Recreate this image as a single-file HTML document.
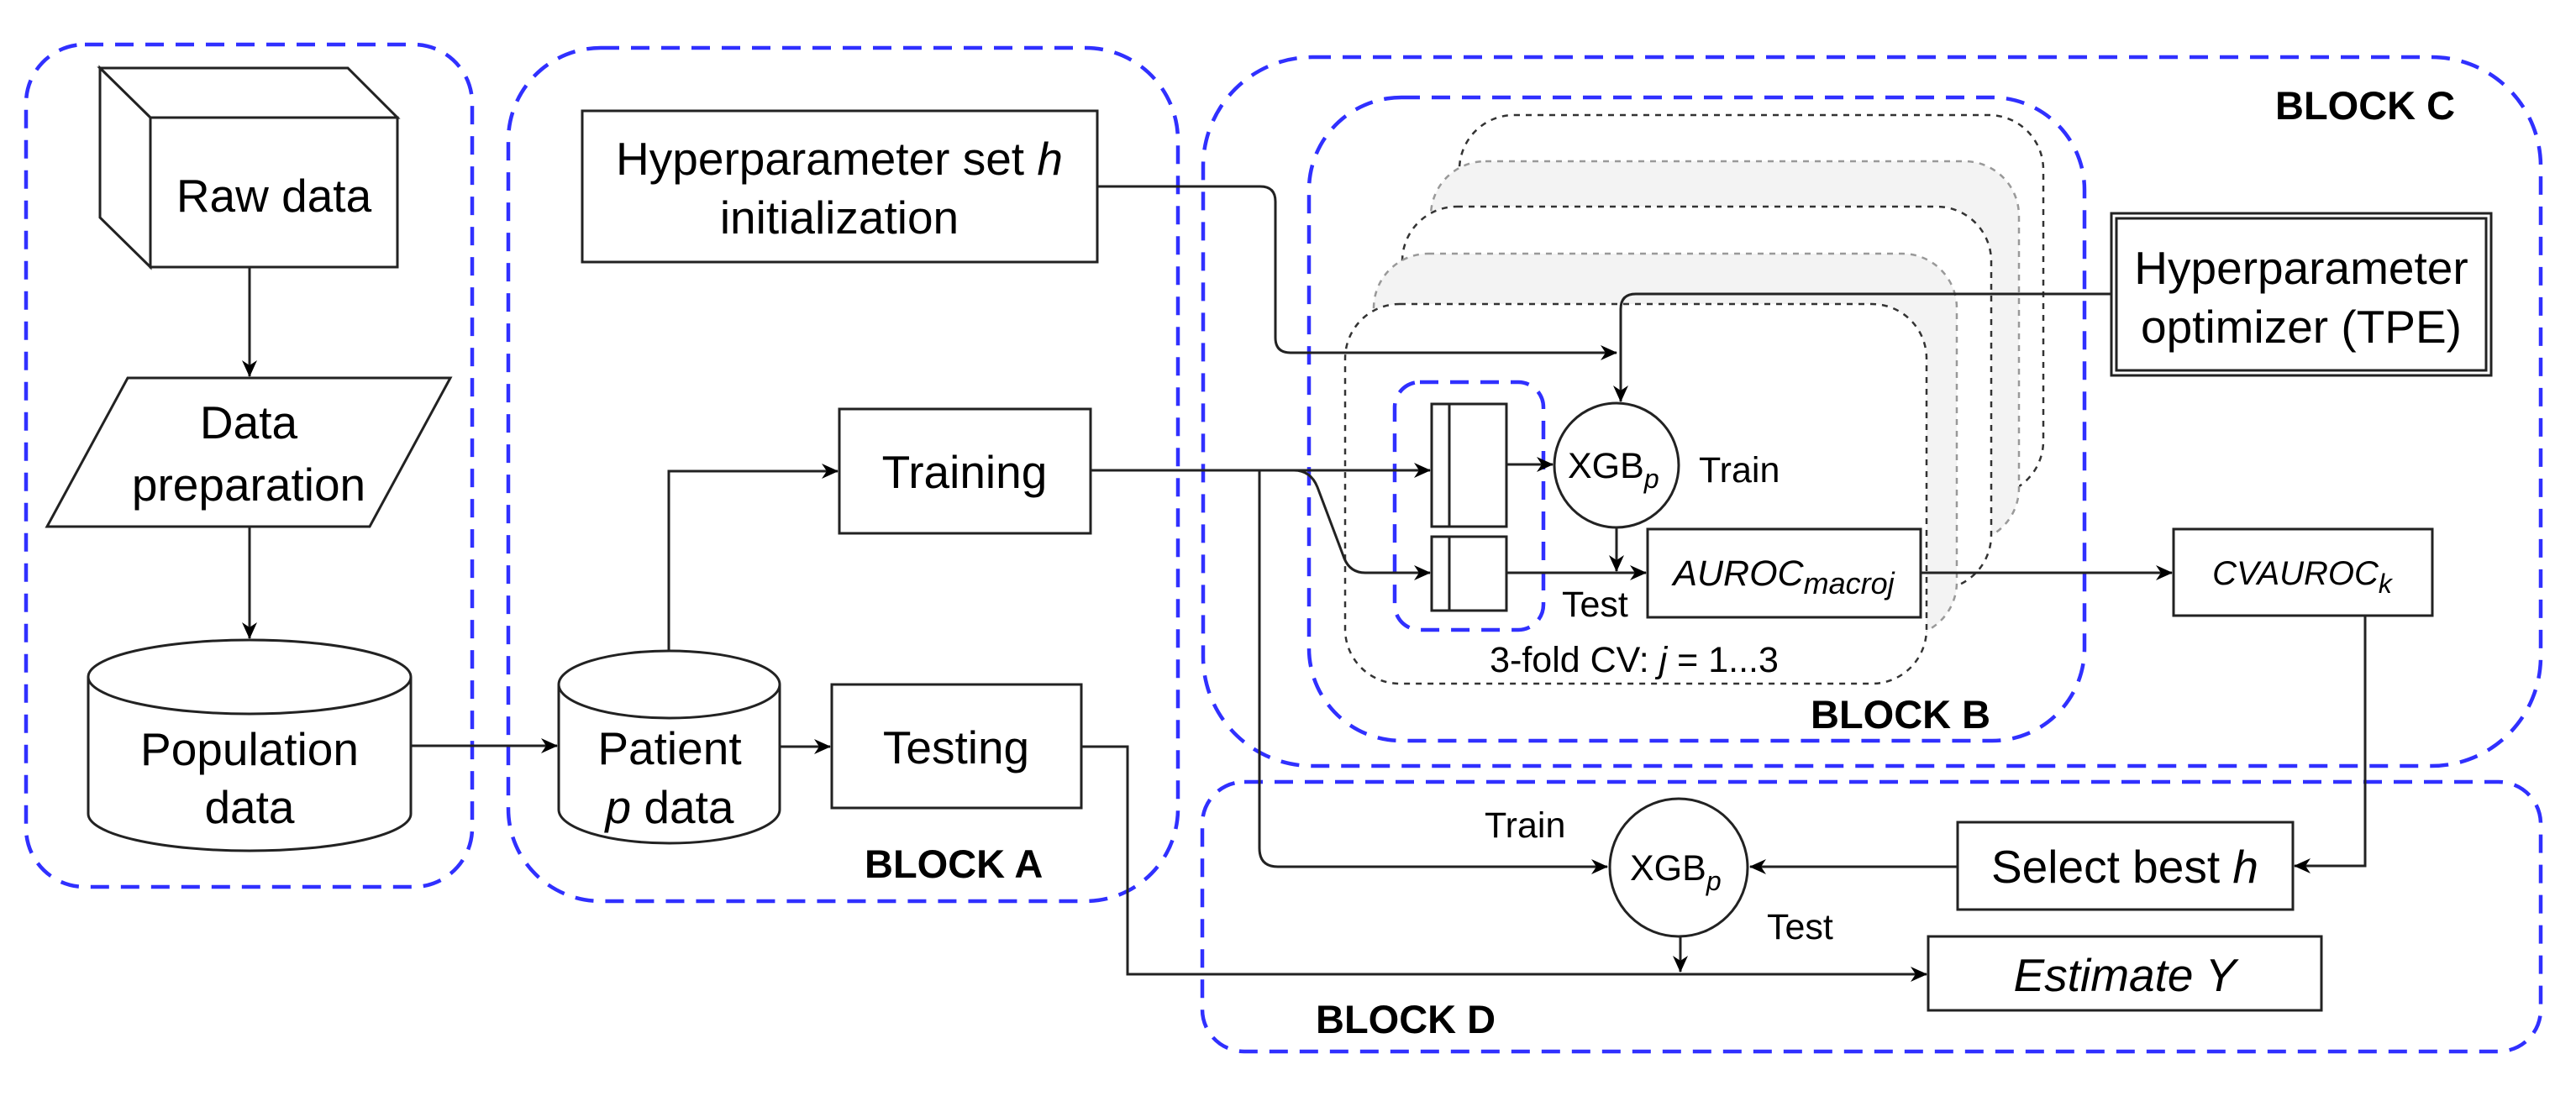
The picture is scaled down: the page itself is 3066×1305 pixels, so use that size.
<!DOCTYPE html>
<html><head><meta charset="utf-8"><style>
html,body{margin:0;padding:0;background:#fff}
svg{display:block}
text{font-family:"Liberation Sans",Arial,sans-serif;fill:#000}
</style></head><body>
<svg width="3066" height="1305" viewBox="0 0 3066 1305" xmlns="http://www.w3.org/2000/svg">
<defs>
<marker id="a" viewBox="0 0 20 20" refX="19" refY="10" markerWidth="20" markerHeight="20" markerUnits="userSpaceOnUse" orient="auto">
<path d="M0,1 L20,10 L0,19 L6,10 Z" fill="#000"/>
</marker>
</defs>
<rect width="3066" height="1305" fill="#fff"/>

<g fill="none" stroke="#3030ff" stroke-width="4.5" stroke-dasharray="22 14">
<rect x="31" y="53" width="531" height="1003" rx="70"/>
<rect x="605" y="57" width="797" height="1016" rx="110"/>
<rect x="1432" y="68" width="1592" height="844" rx="130"/>
<rect x="1558" y="116" width="923" height="766" rx="110"/>
<rect x="1431" y="931" width="1593" height="321" rx="50"/>
</g>

<g stroke-width="2.5" stroke-dasharray="7 7">
<rect x="1737" y="137" width="695" height="453" rx="65" fill="#fff" stroke="#333"/>
<rect x="1703" y="192" width="700" height="454" rx="65" fill="#f3f3f3" stroke="#999"/>
<rect x="1669" y="246" width="701" height="456" rx="65" fill="#fff" stroke="#333"/>
<rect x="1635" y="302" width="694" height="456" rx="65" fill="#f3f3f3" stroke="#999"/>
<rect x="1601" y="362" width="692" height="452" rx="65" fill="#fff" stroke="#333"/>
</g>
<rect x="1660" y="455" width="177" height="295" rx="30" fill="none" stroke="#3030ff" stroke-width="4.5" stroke-dasharray="22 14"/>

<g fill="#fff" stroke="#222" stroke-width="3">
<path d="M119,81 L414,81 L473,140 L179,140 Z"/>
<path d="M119,81 L179,140 L179,318 L119,259 Z"/>
<rect x="179" y="140" width="294" height="178"/>
<path d="M152,450 L536,450 L440,627 L56,627 Z"/>
<path d="M105,806 L105,969 A192,44 0 0 0 489,969 L489,806"/>
<ellipse cx="297" cy="806" rx="192" ry="44"/>
<path d="M665,815 L665,964 A131.5,40 0 0 0 928,964 L928,815"/>
<ellipse cx="796.5" cy="815" rx="131.5" ry="40"/>
<rect x="693" y="132" width="613" height="180"/>
<rect x="999" y="487" width="299" height="148"/>
<rect x="990" y="815" width="297" height="147"/>
<rect x="2513" y="254" width="452" height="193"/>
<rect x="2519" y="260" width="440" height="181"/>
<rect x="1704" y="481" width="89" height="146"/>
<rect x="1704" y="639" width="89" height="88"/>
<circle cx="1924" cy="554" r="74"/>
<rect x="1961" y="630" width="325" height="105"/>
<rect x="2587" y="630" width="308" height="103"/>
<rect x="2330" y="979" width="399" height="104"/>
<rect x="2295" y="1115" width="468" height="88"/>
<circle cx="1998" cy="1033" r="82"/>
</g>
<g stroke="#222" stroke-width="3">
<line x1="1725" y1="481" x2="1725" y2="627"/>
<line x1="1725" y1="639" x2="1725" y2="727"/>
</g>

<g fill="none" stroke="#222" stroke-width="3">
<path d="M297,318 L297,448" marker-end="url(#a)"/>
<path d="M297,627 L297,760" marker-end="url(#a)"/>
<path d="M489,888 L663,888" marker-end="url(#a)"/>
<path d="M928,889 L988,889" marker-end="url(#a)"/>
<path d="M796,775 L796,561 L997,561" marker-end="url(#a)"/>
<path d="M1306,222 L1500,222 Q1518,222 1518,240 L1518,402 Q1518,420 1536,420 L1924,420" marker-end="url(#a)"/>
<path d="M2513,350 L1947,350 Q1929,350 1929,368 L1929,478" marker-end="url(#a)"/>
<path d="M1298,560 L1702,560" marker-end="url(#a)"/>
<path d="M1540,560 Q1560,560 1568,580 L1600,665 Q1607,682 1625,682 L1702,682" marker-end="url(#a)"/>
<path d="M1499,560 L1499,1010 Q1499,1032 1521,1032 L1913,1032" marker-end="url(#a)"/>
<path d="M1793,553 L1848,553" marker-end="url(#a)"/>
<path d="M1924,628 L1924,680" marker-end="url(#a)"/>
<path d="M1793,682 L1959,682" marker-end="url(#a)"/>
<path d="M2286,682 L2585,682" marker-end="url(#a)"/>
<path d="M2815,733 L2815,1031 L2731,1031" marker-end="url(#a)"/>
<path d="M2330,1032 L2083,1032" marker-end="url(#a)"/>
<path d="M2000,1115 L2000,1157" marker-end="url(#a)"/>
<path d="M1287,889 L1342,889 L1342,1160 L2293,1160" marker-end="url(#a)"/>
</g>

<g font-size="55" text-anchor="middle">
<text x="326" y="252">Raw data</text>
<text x="296" y="522">Data</text>
<text x="296" y="596">preparation</text>
<text x="297" y="911">Population</text>
<text x="297" y="980">data</text>
<text x="797" y="910">Patient</text>
<text x="797" y="980"><tspan font-style="italic">p</tspan> data</text>
<text x="999" y="208">Hyperparameter set <tspan font-style="italic">h</tspan></text>
<text x="999" y="278">initialization</text>
<text x="1148" y="581">Training</text>
<text x="1138" y="909">Testing</text>
<text x="2739" y="338">Hyperparameter</text>
<text x="2739" y="408">optimizer (TPE)</text>
<text x="2529" y="1051">Select best <tspan font-style="italic">h</tspan></text>
<text x="2529" y="1180" font-style="italic">Estimate Y</text>
</g>
<g font-size="43">
<text x="1866" y="569">XGB<tspan font-size="32" font-style="italic" dy="12">p</tspan></text>
<text x="2022" y="574">Train</text>
<text x="1859" y="734">Test</text>
<text x="1945" y="800" text-anchor="middle">3-fold CV: <tspan font-style="italic">j</tspan> = 1...3</text>
<text x="1940" y="1048">XGB<tspan font-size="32" font-style="italic" dy="12">p</tspan></text>
<text x="1767" y="997">Train</text>
<text x="2103" y="1118">Test</text>
<text x="2123" y="697" text-anchor="middle" font-style="italic">AUROC<tspan font-size="36" dy="10">macroj</tspan></text>
<text x="2740" y="696" text-anchor="middle" font-style="italic" font-size="40">CVAUROC<tspan font-size="32" dy="10">k</tspan></text>
</g>
<g font-size="47" font-weight="bold">
<text x="1029" y="1045">BLOCK A</text>
<text x="2155" y="867">BLOCK B</text>
<text x="2708" y="142">BLOCK C</text>
<text x="1566" y="1230">BLOCK D</text>
</g>
</svg>
</body></html>
